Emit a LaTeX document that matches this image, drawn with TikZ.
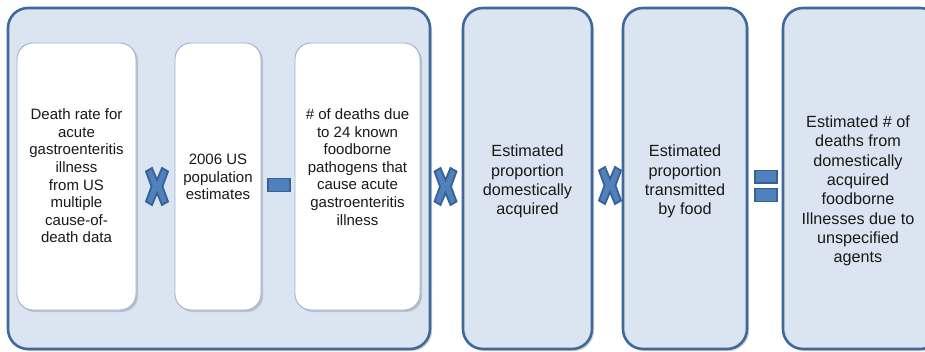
\documentclass[tikz,border=0pt]{standalone}
\usepackage{fontspec}
\setmainfont{Liberation Sans}
\usetikzlibrary{shadows,calc}
\definecolor{boxfill}{HTML}{DBE5F1}
\definecolor{boxline}{HTML}{41689C}
\definecolor{innerline}{HTML}{9AB2D2}
\definecolor{symfill}{HTML}{4F81BD}
\definecolor{symline}{HTML}{3A6193}
\tikzset{
  bigbox/.style={draw=boxline, line width=2.6pt, fill=boxfill, rounded corners=20pt,
    drop shadow={shadow xshift=2pt, shadow yshift=-2pt, opacity=0.35, fill=gray}},
  whitebox/.style={draw=innerline, line width=0.9pt, fill=white, rounded corners=16pt,
    drop shadow={shadow xshift=2pt, shadow yshift=-2pt, opacity=0.35, fill=gray}},
  label/.style={align=center, font=\fontsize{15}{17.6}\selectfont, text=black!90, inner sep=0pt},
  biglabel/.style={align=center, font=\fontsize{16.2}{19.3}\selectfont, text=black!90, inner sep=0pt},
  sym/.style={fill=symfill, draw=symline, line width=1.8pt, line join=miter}
}
\newcommand{\timessign}[1]{%
  \draw[sym] ($(#1)+(-11,-15)$) -- ($(#1)+(-5,-18.5)$) -- ($(#1)+(0,-6.5)$) -- ($(#1)+(5,-18.5)$)
    -- ($(#1)+(11,-15)$) -- ($(#1)+(5.5,0)$) -- ($(#1)+(11,15)$) -- ($(#1)+(5,18.5)$)
    -- ($(#1)+(0,6.5)$) -- ($(#1)+(-5,18.5)$) -- ($(#1)+(-11,15)$) -- ($(#1)+(-5.5,0)$) -- cycle;}
\begin{document}
\begin{tikzpicture}[x=1pt,y=-1pt]
\useasboundingbox (0,0) rectangle (925,352);
\clip (0,0) rectangle (925,352);
% big boxes
\draw[bigbox] (8,8) rectangle (430,349);
\draw[bigbox] (463,8) rectangle (592,349);
\draw[bigbox] (623,8) rectangle (747,349);
\draw[bigbox] (783,8) rectangle (940,349);
% inner white boxes
\draw[whitebox] (17,43) rectangle (136,310);
\draw[whitebox] (175,43) rectangle (261,310);
\draw[whitebox] (295,43) rectangle (420,310);
% texts
\node[label] (t1) at (76.5,176) {Death rate for\\acute\\gastroenteritis\\illness\\from US\\multiple\\cause-of-\\death data};
\node[label] (t2) at (218,177) {2006 US\\population\\estimates};
\node[label] (t3) at (357.5,167) {\# of deaths due\\to 24 known\\foodborne\\pathogens that\\cause acute\\gastroenteritis\\illness};
\node[biglabel] (t4) at (527.5,181.5) {Estimated\\proportion\\domestically\\acquired};
\node[biglabel] (t5) at (685,181.5) {Estimated\\proportion\\transmitted\\by food};
\node[biglabel] (t6) at (858,191) {Estimated \# of\\deaths from\\domestically\\acquired\\foodborne\\Illnesses due to\\unspecified\\agents};
% operators
\coordinate (x1) at (157,186.5);
\coordinate (x2) at (445.5,186.5);
\coordinate (x3) at (610,185.5);
\timessign{x1}
\timessign{x2}
\timessign{x3}
\draw[sym] (268,178.5) rectangle (290,191.5);
\draw[sym] (755,170.5) rectangle (777,183);
\draw[sym] (755,188.5) rectangle (777,201.5);
\end{tikzpicture}
\end{document}
